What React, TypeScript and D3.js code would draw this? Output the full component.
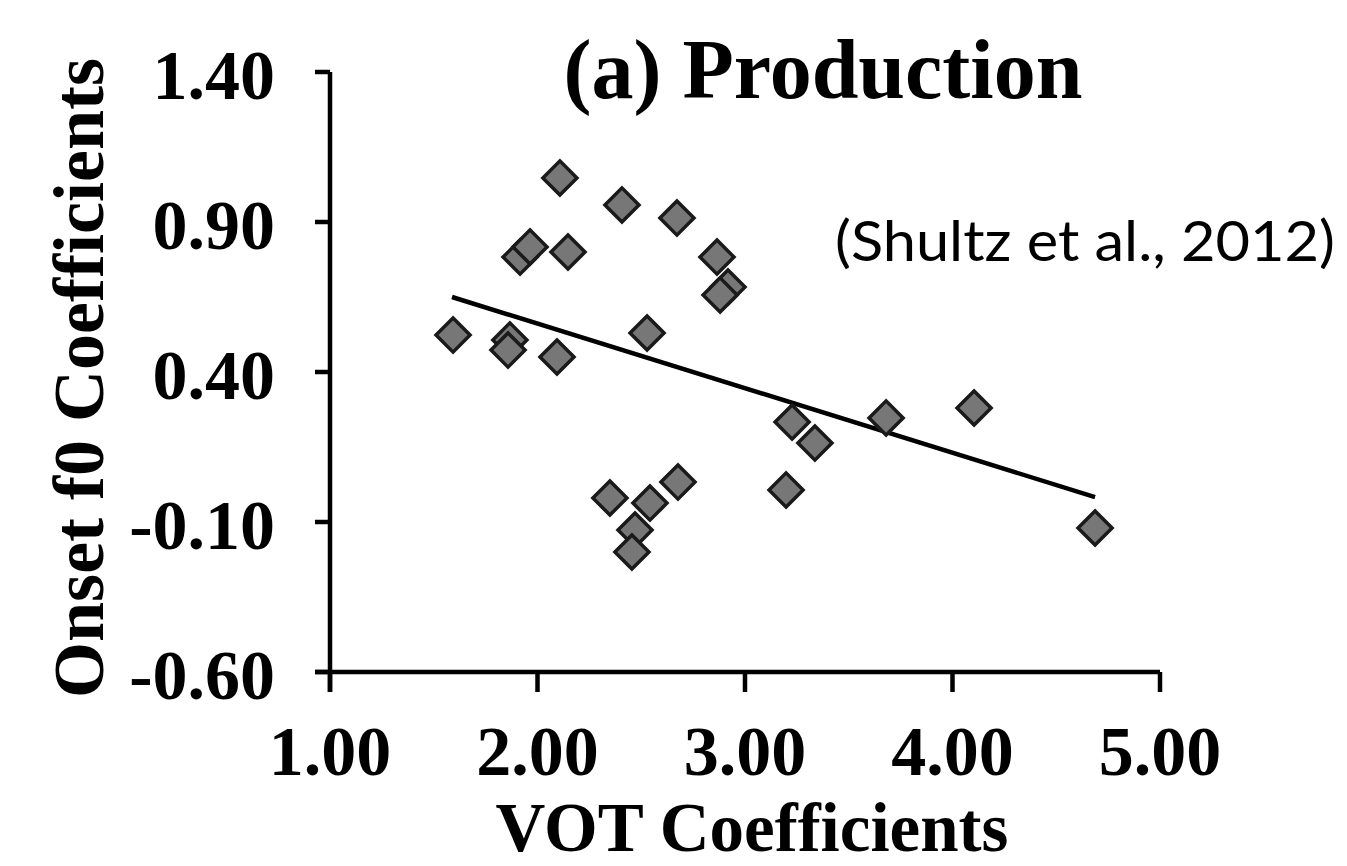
import React from "react";
import * as d3 from "d3";

const vot = [1.593, 1.867, 1.858, 2.094, 1.916, 1.964, 2.147, 2.108, 2.407, 2.672, 2.865, 2.918, 2.88, 2.528, 3.227, 3.337, 3.198, 2.349, 2.677, 2.542, 2.47, 2.455, 3.68, 4.104, 4.687];
const f0 = [0.523, 0.507, 0.473, 0.45, 0.783, 0.817, 0.8, 1.047, 0.957, 0.913, 0.783, 0.683, 0.657, 0.53, 0.233, 0.163, 0.007, -0.02, 0.033, -0.037, -0.127, -0.2, 0.247, 0.28, -0.12];
const trendX = [1.588, 4.687];
const trendY = [0.65, -0.017];
const xTicks = [1, 2, 3, 4, 5];
const yTicks = [-0.6, -0.1, 0.4, 0.9, 1.4];
const title = "(a) Production";
const xTitle = "VOT Coefficients";
const yTitle = "Onset f0 Coefficients";
const citation = "(Shultz et al., 2012)";

const W = 1347;
const H = 866;
const serif = "'Liberation Serif', 'Times New Roman', serif";
const fmt = (v: number) => d3.format(".2f")(v).replace("\u2212", "-");

export default function App() {
  const x = d3.scaleLinear().domain([1, 5]).range([330, 1160]);
  const y = d3.scaleLinear().domain([-0.6, 1.4]).range([672, 72]);
  const diamond = d3.symbol(d3.symbolSquare, 580)() as string;
  const line = d3.line<number>().x((d) => x(trendX[d])).y((d) => y(trendY[d]))([0, 1]) as string;
  const axisW = 4.5;
  return (
    <svg width={W} height={H} style={{ position: "absolute", left: 0, top: 0, background: "#fff" }}>
      <rect width={W} height={H} fill="#fff" />
      {/* axes */}
      <line x1={x(1)} x2={x(1)} y1={y(1.4)} y2={y(-0.6) + 20} stroke="#000" strokeWidth={axisW} />
      <line x1={x(1) - 15} x2={x(5)} y1={y(-0.6)} y2={y(-0.6)} stroke="#000" strokeWidth={axisW} />
      {yTicks.map((t) => (
        <g key={"y" + t}>
          <line x1={x(1) - 15} x2={x(1)} y1={y(t)} y2={y(t)} stroke="#000" strokeWidth={axisW} />
          <text x={275} y={y(t) + 27} textAnchor="end" fontFamily={serif} fontWeight="bold" fontSize={70} fill="#000">
            {fmt(t)}
          </text>
        </g>
      ))}
      {xTicks.map((t) => (
        <g key={"x" + t}>
          <line x1={x(t)} x2={x(t)} y1={y(-0.6)} y2={y(-0.6) + 20} stroke="#000" strokeWidth={axisW} />
          <text x={x(t)} y={775} textAnchor="middle" fontFamily={serif} fontWeight="bold" fontSize={70} fill="#000">
            {fmt(t)}
          </text>
        </g>
      ))}
      {/* trend line */}
      <path d={line} stroke="#000" strokeWidth={4.5} fill="none" />
      {/* points */}
      {vot.map((v, i) => (
        <path
          key={i}
          d={diamond}
          transform={`translate(${x(v)},${y(f0[i])}) rotate(45)`}
          fill="#777"
          stroke="#1a1a1a"
          strokeWidth={3.5}
        />
      ))}
      {/* titles */}
      <text x={823} y={98} textAnchor="middle" fontFamily={serif} fontWeight="bold" fontSize={84} fill="#000">
        {title}
      </text>
      <text x={752} y={851} textAnchor="middle" fontFamily={serif} fontWeight="bold" fontSize={69} fill="#000">
        {xTitle}
      </text>
      <text
        transform={`translate(103,378) rotate(-90)`}
        textAnchor="middle"
        fontFamily={serif}
        fontWeight="bold"
        fontSize={72}
        fill="#000"
      >
        {yTitle}
      </text>
      <text
        x={835}
        y={261}
        fontFamily="Lato, 'Open Sans', sans-serif"
        fontSize={56}
        fill="#000"
        textLength={500}
        lengthAdjust="spacingAndGlyphs"
      >
        {citation}
      </text>
    </svg>
  );
}
